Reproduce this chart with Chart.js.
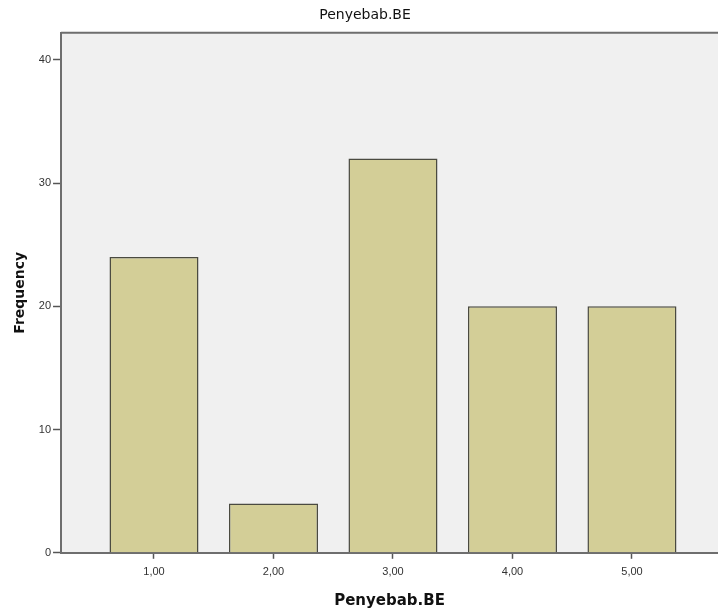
<!DOCTYPE html>
<html>
<head>
<meta charset="utf-8">
<script src="https://cdn.jsdelivr.net/npm/chart.js@4.4.0/dist/chart.umd.min.js"></script>
<style>
  html, body { margin: 0; padding: 0; background: #fff; overflow: hidden; }
  #wrap { width: 718px; height: 616px; }
</style>
</head>
<body>
<div id="wrap"><canvas id="chart" width="718" height="616"></canvas></div>
<script>
// Data
const categories = [1, 2, 3, 4, 5];
const frequencies = [24, 4, 32, 20, 20];
const yTicks = [0, 10, 20, 30, 40];
const chartTitle = 'Penyebab.BE';
const xTitle = 'Penyebab.BE';
const yTitle = 'Frequency';

const fmt = (v) => v.toFixed(2).replace('.', ',');

// Grey plot background and the top frame line
const plotFrame = {
  id: 'plotFrame',
  beforeDraw(chart) {
    const { ctx, chartArea: a } = chart;
    ctx.save();
    ctx.fillStyle = '#f0f0f0';
    ctx.fillRect(a.left, a.top, a.right - a.left, a.bottom - a.top);
    ctx.restore();
  },
  afterDraw(chart) {
    const { ctx, chartArea: a } = chart;
    ctx.save();
    ctx.strokeStyle = '#6e6e6e';
    ctx.lineWidth = 2;
    ctx.beginPath();
    ctx.moveTo(a.left, a.top);
    ctx.lineTo(a.right, a.top);
    ctx.stroke();
    ctx.restore();
  }
};

const ctx = document.getElementById('chart').getContext('2d');
new Chart(ctx, {
  type: 'bar',
  data: {
    datasets: [{
      label: 'Frequency',
      data: categories.map((c, i) => ({ x: c, y: frequencies[i] })),
      backgroundColor: '#d3ce97',
      borderColor: '#4a4a40',
      borderWidth: 1.5,
      barPercentage: 1,
      categoryPercentage: 0.745
    }]
  },
  options: {
    responsive: false,
    animation: false,
    layout: { padding: { top: 1, right: 0, bottom: 6, left: 12 } },
    plugins: {
      legend: { display: false },
      tooltip: { enabled: false },
      title: {
        display: true,
        text: chartTitle,
        color: '#111',
        font: { family: 'DejaVu Sans, Verdana, sans-serif', size: 14, weight: 'normal' },
        padding: { top: 6, bottom: 9 }
      }
    },
    scales: {
      x: {
        type: 'linear',
        offset: false,
        min: 0.222,
        max: 5.72,
        afterBuildTicks: (scale) => { scale.ticks = categories.map(v => ({ value: v })); },
        ticks: {
          callback: (v) => fmt(v),
          color: '#333',
          font: { family: 'Liberation Sans, Arial, sans-serif', size: 11 },
          padding: 7,
          maxRotation: 0
        },
        grid: { offset: false, drawOnChartArea: false, drawTicks: true, tickLength: 6, tickColor: '#555', tickWidth: 1.5 },
        border: { display: true, color: '#6e6e6e', width: 2 },
        title: {
          display: true,
          text: xTitle,
          color: '#111',
          font: { family: 'DejaVu Sans, Verdana, sans-serif', size: 15, weight: 'bold' },
          padding: { top: 6, bottom: 0 }
        }
      },
      y: {
        min: 0,
        max: 42.2,
        afterBuildTicks: (scale) => { scale.ticks = yTicks.map(v => ({ value: v })); },
        ticks: {
          color: '#333',
          font: { family: 'Liberation Sans, Arial, sans-serif', size: 11 },
          padding: 2
        },
        grid: { drawOnChartArea: false, drawTicks: true, tickLength: 8, tickColor: '#555', tickWidth: 1.5 },
        border: { display: true, color: '#6e6e6e', width: 2 },
        title: {
          display: true,
          text: yTitle,
          color: '#111',
          font: { family: 'DejaVu Sans, Verdana, sans-serif', size: 14, weight: 'bold' },
          padding: { top: 0, bottom: 8 }
        }
      }
    }
  },
  plugins: [plotFrame]
});
</script>
</body>
</html>
